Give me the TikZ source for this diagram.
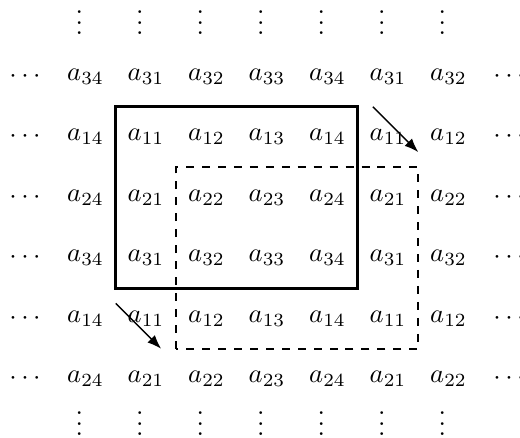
\documentclass[tikz,border=0pt]{standalone}
\usetikzlibrary{arrows.meta,calc}

\begin{document}
\begin{tikzpicture}[
  x=0.8cm, y=0.8cm,
  entry/.style={inner sep=1pt},
  frame/.style={draw, line width=1pt},
  shifted/.style={draw, dashed, line width=0.9pt},
  move/.style={-{Latex}, draw, line width=0.5pt}
]
\useasboundingbox (-1.413,1.264) rectangle (7.182,-5.975);

% ---- periodic entries
\foreach \r/\i in {1/3,2/1,3/2,4/3,5/1,6/2} {
  \node[entry] (l-\r) at (-1,{1-\r}) {$\cdots$};
  \foreach \c/\j in {1/4,2/1,3/2,4/3,5/4,6/1,7/2}
    \node[entry] (a-\r-\c) at ({\c-1},{1-\r}) {$a_{\i\j}$};
  \node[entry] (r-\r) at (7,{1-\r}) {$\cdots$};
}
\foreach \c in {1,...,7} {
  \node[entry] (t-\c) at ({\c-1.1},1.02) {$\vdots$};
  \node[entry] (b-\c) at ({\c-1.1},-5.61) {$\vdots$};
}

% ---- window corners
\coordinate (sSW) at ($(a-4-1)!0.5!(a-5-2)$);
\coordinate (sNE) at ($(a-1-5)!0.5!(a-2-6)$);
\coordinate (dSW) at ($(a-5-2)!0.5!(a-6-3)$);
\coordinate (dNE) at ($(a-2-6)!0.5!(a-3-7)$);
\coordinate (mvA) at ($(sNE)+(0.25,0)$);
\coordinate (mvB) at ($(dNE)+(0,0.25)$);
\coordinate (mvC) at ($(sSW)+(0,-0.25)$);
\coordinate (mvD) at ($(dSW)+(-0.25,0)$);

% ---- windows
\draw[frame] (sSW) rectangle (sNE);
\draw[shifted] (dSW) rectangle (dNE);

% ---- shifts
\draw[move] (mvA) -- (mvB);
\draw[move] (mvC) -- (mvD);
\end{tikzpicture}
\end{document}
